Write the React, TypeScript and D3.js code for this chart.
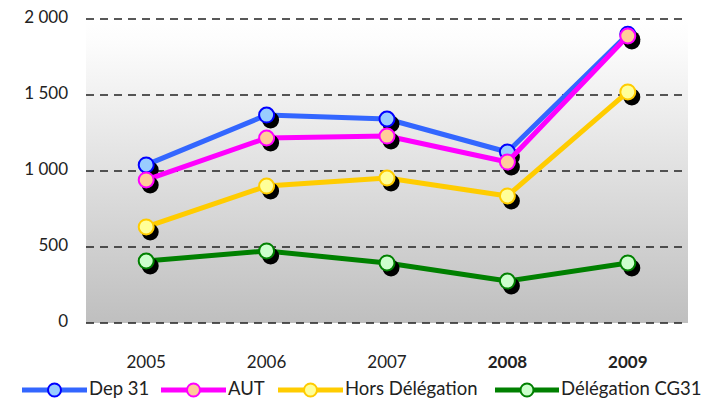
import { useEffect, useRef } from 'react';
import * as d3 from 'd3';

const years = ['2005', '2006', '2007', '2008', '2009'];
const dep31 = [1040, 1368, 1342, 1125, 1900];
const aut = [941, 1217, 1230, 1059, 1888];
const horsDelegation = [632, 901, 954, 836, 1520];
const delegationCG31 = [408, 474, 395, 276, 395];
const yTicks = [0, 500, 1000, 1500, 2000];
const yTickLabels = ['0', '500', '1 000', '1 500', '2 000'];

const series = [
  { name: 'Dep 31', values: dep31, line: '#3366ff', fill: '#99ccff', stroke: '#0000ff', legendX: 22, legendW: 65 },
  { name: 'AUT', values: aut, line: '#ff00ff', fill: '#ffcc99', stroke: '#ff00ff', legendX: 161, legendW: 65 },
  { name: 'Hors Délégation', values: horsDelegation, line: '#ffcc00', fill: '#ffff99', stroke: '#ffcc00', legendX: 278, legendW: 65 },
  { name: 'Délégation CG31', values: delegationCG31, line: '#008000', fill: '#ccffcc', stroke: '#008000', legendX: 495, legendW: 64 },
];

const W = 711;
const H = 403;

export default function App() {
  const svgRef = useRef<SVGSVGElement>(null);

  useEffect(() => {
    if (!svgRef.current) return;
    const svg = d3.select(svgRef.current);
    svg.selectAll('*').remove();

    const left = 86;
    const right = 688;
    const top = 19;
    const bottom = 323;
    const font = "Lato, 'Open Sans', sans-serif";

    const x = d3.scaleBand().domain(years).range([left, right]);
    const y = d3.scaleLinear().domain([0, 2000]).range([bottom, top]);

    // Background gradient
    const defs = svg.append('defs');
    const grad = defs.append('linearGradient')
      .attr('id', 'bg-grad')
      .attr('x1', 0).attr('y1', 0).attr('x2', 0).attr('y2', 1);
    grad.append('stop').attr('offset', '0%').attr('stop-color', '#ffffff');
    grad.append('stop').attr('offset', '8%').attr('stop-color', '#fcfcfc');
    grad.append('stop').attr('offset', '100%').attr('stop-color', '#bfbfbf');

    svg.append('rect')
      .attr('x', left)
      .attr('y', top)
      .attr('width', right - left)
      .attr('height', bottom - top)
      .attr('fill', 'url(#bg-grad)');

    // Grid lines + y labels
    yTicks.forEach((t, i) => {
      svg.append('line')
        .attr('x1', left)
        .attr('x2', right)
        .attr('y1', y(t))
        .attr('y2', y(t))
        .attr('stroke', '#222')
        .attr('stroke-width', 1.5)
        .attr('stroke-dasharray', '8,6');

      svg.append('text')
        .attr('x', 68)
        .attr('y', y(t))
        .attr('text-anchor', 'end')
        .attr('dominant-baseline', 'middle')
        .attr('font-family', font)
        .attr('font-size', 17)
        .attr('fill', '#222')
        .text(yTickLabels[i]);
    });

    // X labels
    years.forEach((yr) => {
      svg.append('text')
        .attr('x', x(yr)! + x.bandwidth() / 2)
        .attr('y', 364)
        .attr('text-anchor', 'middle')
        .attr('dominant-baseline', 'middle')
        .attr('font-family', font)
        .attr('font-size', 17)
        .attr('font-weight', yr === '2008' || yr === '2009' ? 700 : 400)
        .attr('fill', '#222')
        .text(yr);
    });

    const line = d3.line<number>()
      .x((_, i) => x(years[i])! + x.bandwidth() / 2)
      .y((d) => y(d));

    series.forEach((s) => {
      svg.append('path')
        .attr('d', line(s.values))
        .attr('fill', 'none')
        .attr('stroke', s.line)
        .attr('stroke-width', 5)
        .attr('stroke-linejoin', 'round');

      // marker shadows
      s.values.forEach((v, i) => {
        const cx = x(years[i])! + x.bandwidth() / 2;
        svg.append('circle')
          .attr('cx', cx + 4)
          .attr('cy', y(v) + 5)
          .attr('r', 8.5)
          .attr('fill', '#000');
      });

      s.values.forEach((v, i) => {
        const cx = x(years[i])! + x.bandwidth() / 2;
        svg.append('circle')
          .attr('cx', cx)
          .attr('cy', y(v))
          .attr('r', 7.5)
          .attr('fill', s.fill)
          .attr('stroke', s.stroke)
          .attr('stroke-width', 2);
      });

      // Legend
      const ly = 390;
      svg.append('line')
        .attr('x1', s.legendX)
        .attr('x2', s.legendX + s.legendW)
        .attr('y1', ly)
        .attr('y2', ly)
        .attr('stroke', s.line)
        .attr('stroke-width', 5);
      svg.append('circle')
        .attr('cx', s.legendX + s.legendW / 2)
        .attr('cy', ly)
        .attr('r', 6.5)
        .attr('fill', s.fill)
        .attr('stroke', s.stroke)
        .attr('stroke-width', 2);
      svg.append('text')
        .attr('x', s.legendX + s.legendW + 2)
        .attr('y', ly)
        .attr('dominant-baseline', 'middle')
        .attr('font-family', font)
        .attr('font-size', 18.5)
        .attr('fill', '#222')
        .text(s.name);
    });
  }, []);

  return (
    <svg
      ref={svgRef}
      width={W}
      height={H}
      viewBox={`0 0 ${W} ${H}`}
      style={{ position: 'absolute', left: 0, top: 0, background: '#fff' }}
    />
  );
}
